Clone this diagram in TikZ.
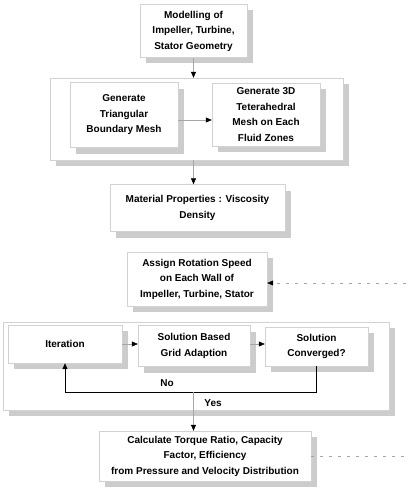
\documentclass[tikz,border=0pt]{standalone}
\usepackage{fontspec}
\setmainfont{Liberation Sans}
\usetikzlibrary{shadows,arrows.meta}
\begin{document}
\begin{tikzpicture}[x=1pt,y=-1pt,
  txt/.style={font=\bfseries\fontsize{10}{15.5}\selectfont},
  box/.style={txt, draw=gray!35, line width=0.4pt, fill=white, align=center, inner sep=0pt,
     drop shadow={shadow xshift=6pt, shadow yshift=-6pt, fill=gray!40, opacity=1}},
  conn/.style={draw=gray!70, line width=0.5pt, -{Triangle[length=6pt,width=5pt,color=black,fill=black]}},
  dashline/.style={draw=gray!70, line width=0.5pt, dash pattern=on 3pt off 6pt},
  loopline/.style={draw=black, line width=0.8pt, -{Triangle[length=6pt,width=5pt,color=black,fill=black]}}
]
\useasboundingbox (0,0) rectangle (406,487);
% top
\node[box, minimum width=107pt, minimum height=53pt] (m) at (193.5,31) {Modelling of\\Impeller, Turbine,\\Stator Geometry};
% mesh group
\node[box, minimum width=293pt, minimum height=82pt] (g1) at (196.5,119) {};
\node[box, minimum width=108pt, minimum height=65pt] (tri) at (124,115) {Generate\\Triangular\\Boundary Mesh};
\node[box, minimum width=108pt, minimum height=63pt] (tet) at (266,114.5) {Generate 3D\\Teterahedral\\Mesh on Each\\Fluid Zones};
% material
\node[box, minimum width=175pt, minimum height=47pt] (mat) at (197.5,208) {Material Properties : Viscosity\\Density};
% assign
\node[box, minimum width=140pt, minimum height=54pt] (asg) at (197,279) {Assign Rotation Speed\\on Each Wall of\\Impeller, Turbine, Stator};
% loop group
\node[box, minimum width=386pt, minimum height=88pt] (g2) at (196,366) {};
\node[box, minimum width=114pt, minimum height=38pt] (it) at (65,344) {Iteration};
\node[box, minimum width=112pt, minimum height=41pt] (sb) at (194,346) {Solution Based\\Grid Adaption};
\node[box, minimum width=103pt, minimum height=39pt] (sc) at (316.5,346.5) {Solution\\Converged?};
% final
\node[box, minimum width=212pt, minimum height=50pt] (calc) at (205,456) {Calculate Torque Ratio, Capacity\\Factor, Efficiency\\from Pressure and Velocity Distribution};
% labels
\node[txt] (no) at (167,383) {No};
\node[txt] (yes) at (213,403) {Yes};
% coordinates
\coordinate (noline) at (0,392);
\coordinate (rin) at (406,283);
\coordinate (rout) at (406,456);
% connectors
\draw[conn] (m.south) -- (m.south |- g1.north);
\draw[conn] ([yshift=-5pt]tri.east) -- ([yshift=-5pt]tri.east -| tet.west);
\draw[conn] (m.south |- g1.south) -- (m.south |- mat.north);
\draw[conn, dashline] (rin) -- (rin -| asg.east);
\draw[conn] (it.east) -- (it.east -| sb.west);
\draw[conn] (sb.east |- it.east) -- (it.east -| sc.west);
\draw[loopline] (sc.south) -- (sc.south |- noline) -- (it.south |- noline) -- (it.south);
\draw[conn] (m.south |- noline) -- (m.south |- calc.north);
\draw[dashline] (calc.east) -- (rout);
\end{tikzpicture}
\end{document}
